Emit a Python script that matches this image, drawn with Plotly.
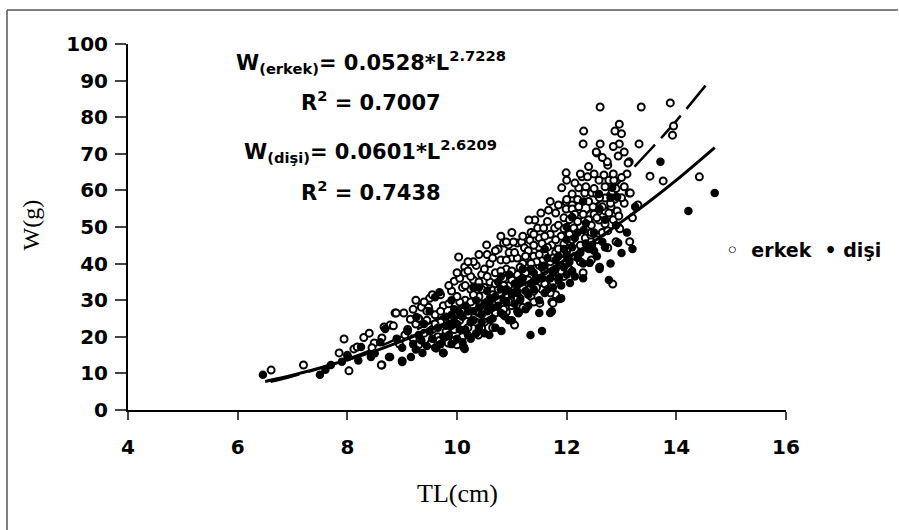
import plotly.graph_objects as go

# readings: (TL cm, W g)
erkek = [
    (6.61, 10.9), (7.2, 12.3), (7.85, 15.6), (7.94, 19.4), (8.03, 10.7), (8.01, 14.5),
    (8.12, 16.7), (8.18, 17.2), (8.49, 18.3), (8.45, 17.0), (8.63, 19.7), (8.63, 12.3),
    (8.78, 23.2), (8.87, 26.5), (8.84, 23.0), (8.67, 22.7), (8.62, 12.3), (8.3, 19.8),
    (8.4, 21.0), (8.89, 26.5), (9.03, 26.5), (9.0, 13.4), (9.53, 18.3), (9.62, 16.9),
    (9.75, 15.6), (9.35, 28.1), (9.48, 28.1), (9.05, 20.5), (9.1, 22.0), (9.2, 19.5),
    (9.25, 23.5), (9.3, 17.8), (9.4, 21.0), (9.45, 24.5), (9.55, 22.0), (9.6, 26.0),
    (9.65, 20.0), (9.7, 24.0), (9.75, 28.5), (9.8, 21.5), (8.95, 18.0), (9.15, 24.8),
    (9.5, 30.5), (9.68, 19.0), (9.84, 18.3), (9.95, 35.2), (9.9, 25.0), (9.95, 22.0),
    (10.03, 41.8), (10.14, 39.1), (10.14, 37.5), (10.12, 17.2), (10.0, 17.8), (10.39, 20.5),
    (10.45, 22.4), (10.54, 45.1), (10.85, 45.6), (10.94, 45.1), (11.1, 45.6), (11.05, 23.2),
    (10.87, 25.7), (11.12, 26.5), (10.05, 24.5), (10.1, 27.0), (10.15, 30.0), (10.2, 26.0),
    (10.25, 33.0), (10.3, 28.5), (10.3, 35.5), (10.35, 24.0), (10.4, 31.0), (10.45, 37.0),
    (10.5, 27.0), (10.5, 33.5), (10.55, 29.5), (10.6, 35.0), (10.6, 40.0), (10.65, 31.5),
    (10.7, 26.5), (10.7, 37.5), (10.75, 33.0), (10.8, 29.0), (10.8, 41.0), (10.85, 36.0),
    (10.9, 31.5), (10.9, 38.5), (10.95, 34.0), (11.0, 28.5), (11.0, 41.5), (10.05, 29.5),
    (10.2, 22.5), (10.35, 39.5), (10.55, 42.5), (10.65, 22.5), (10.75, 44.0), (10.95, 43.0),
    (10.4, 26.5), (10.6, 30.0), (10.85, 34.0), (10.1, 33.5), (10.25, 36.5), (10.45, 29.0),
    (10.9, 45.9), (11.03, 45.9), (11.18, 45.9), (11.23, 44.3), (11.33, 46.4), (11.49, 44.5),
    (11.73, 45.1), (11.95, 45.4), (12.06, 45.9), (11.42, 51.9), (11.31, 51.9), (11.47, 49.7),
    (11.58, 49.7), (11.78, 49.7), (11.53, 53.8), (11.67, 54.6), (11.8, 53.8), (11.73, 29.5),
    (11.51, 29.2), (11.12, 26.8), (10.9, 26.8), (11.75, 29.2), (11.05, 33.0), (11.1, 37.0),
    (11.15, 30.5), (11.2, 40.0), (11.25, 34.5), (11.3, 38.0), (11.35, 31.0), (11.4, 42.0),
    (11.45, 36.0), (11.5, 39.5), (11.55, 33.0), (11.6, 42.5), (11.65, 37.0), (11.7, 40.5),
    (11.75, 35.0), (11.8, 43.0), (11.85, 38.5), (11.9, 41.0), (11.95, 36.5), (12.0, 43.5),
    (11.1, 41.5), (11.3, 43.5), (11.5, 47.0), (11.7, 48.0), (11.9, 47.5), (11.2, 28.0),
    (11.4, 32.5), (11.6, 34.5), (11.8, 31.5), (11.15, 35.5), (11.45, 40.5), (11.85, 50.5),
    (11.65, 51.5), (11.35, 48.5), (11.95, 52.5), (11.25, 37.5),
    (11.99, 64.8), (12.0, 62.8), (12.28, 63.7), (12.38, 63.7), (12.5, 64.5), (12.68, 64.2),
    (12.77, 62.8), (12.86, 62.8), (12.59, 62.8), (11.91, 60.7), (12.22, 60.7), (12.33, 59.3),
    (12.46, 59.3), (12.55, 59.0), (12.7, 57.9), (12.83, 59.8), (12.88, 57.6), (13.14, 59.3),
    (12.1, 59.0), (11.99, 56.8), (12.1, 56.0), (11.99, 54.9), (12.1, 54.9), (12.22, 55.5),
    (12.48, 55.5), (12.59, 54.4), (12.7, 54.4), (12.81, 55.5), (12.92, 54.4), (12.5, 53.5),
    (12.77, 53.8), (12.59, 51.9), (12.7, 50.8), (12.96, 49.7), (12.13, 49.7), (12.34, 47.0),
    (12.44, 47.8), (12.75, 44.3), (12.97, 49.5), (12.84, 34.4), (12.31, 76.2), (12.3, 72.7),
    (12.61, 72.7), (12.55, 70.2), (12.94, 69.4), (12.75, 66.9), (13.14, 67.8), (13.05, 70.5),
    (12.61, 82.8), (12.96, 78.1), (12.88, 76.2), (12.96, 72.7), (12.54, 70.5), (12.74, 67.8),
    (12.05, 38.5), (12.15, 42.0), (12.25, 40.5), (12.35, 44.5), (12.45, 41.0), (12.55, 46.5),
    (12.65, 48.5), (12.2, 51.5), (12.4, 52.0), (12.05, 48.0), (12.3, 37.5), (12.6, 39.0),
    (12.9, 46.0), (12.85, 52.0),
    (13.32, 72.7), (13.36, 82.8), (13.89, 83.9), (13.95, 77.6), (13.93, 75.1), (13.52, 63.9),
    (13.76, 62.6), (14.42, 63.7), (13.16, 59.3), (13.12, 67.5), (13.1, 64.5), (13.2, 52.5),
    (13.05, 56.5), (13.3, 56.0), (13.15, 46.0),
    (9.2, 27.5), (9.3, 25.0), (9.4, 29.5), (9.55, 31.5), (9.6, 23.5), (9.7, 27.0),
    (9.85, 29.0), (9.9, 32.5), (9.95, 19.0), (10.0, 26.5), (10.0, 31.0), (10.05, 36.0),
    (10.1, 20.0), (10.15, 34.0), (10.2, 38.0), (10.25, 29.5), (10.3, 31.5), (10.35, 27.0),
    (10.4, 35.0), (10.45, 33.0), (10.5, 38.5), (10.5, 24.0), (10.55, 36.5), (10.6, 27.5),
    (10.65, 41.5), (10.7, 34.5), (10.75, 30.0), (10.8, 38.0), (10.85, 27.5), (10.9, 41.0),
    (10.95, 29.5), (11.0, 35.5), (11.0, 38.0), (11.05, 43.0), (11.1, 30.5), (11.15, 39.0),
    (11.2, 33.5), (11.25, 42.0), (11.3, 35.5), (11.35, 40.0), (11.4, 29.5), (11.4, 45.0),
    (11.45, 33.5), (11.5, 42.5), (11.55, 45.5), (11.6, 38.0), (11.65, 44.5), (11.7, 32.0),
    (11.75, 41.5), (11.8, 46.5), (11.85, 44.0), (11.9, 38.0), (11.95, 49.5), (12.0, 40.0),
    (12.0, 57.5), (12.05, 52.0), (12.1, 46.5), (12.15, 62.0), (12.2, 57.5), (12.25, 45.0),
    (12.3, 53.5), (12.35, 61.0), (12.4, 57.0), (12.45, 50.5), (12.5, 60.5), (12.55, 52.5),
    (12.6, 58.0), (12.65, 55.5), (12.7, 61.0), (12.75, 49.0), (12.8, 56.5), (12.85, 64.5),
    (12.9, 60.5), (12.95, 53.0), (13.0, 58.0), (13.0, 63.5), (13.05, 61.0), (12.4, 66.5),
    (12.65, 69.0), (12.85, 72.0), (13.0, 75.5), (12.45, 48.5), (12.15, 53.5), (12.25, 64.5),
    (11.7, 57.0), (11.85, 56.0), (11.6, 47.5), (11.4, 48.0), (11.2, 47.5), (11.0, 48.5),
    (10.8, 47.5), (10.7, 43.5), (10.4, 42.5), (10.3, 40.5), (10.2, 40.5), (10.0, 37.5),
    (9.85, 34.0), (9.7, 31.5), (9.45, 27.0), (9.25, 30.0),
]

disi = [
    (6.46, 9.6), (7.5, 9.6), (7.7, 12.3), (7.6, 11.0), (8.25, 17.2), (8.43, 14.5),
    (8.78, 14.5), (8.69, 22.1), (8.76, 14.5), (9.0, 13.1), (9.16, 14.5), (9.37, 15.6),
    (9.75, 15.6), (9.26, 25.4), (9.68, 32.2), (9.6, 30.8), (10.14, 16.7), (10.59, 20.5),
    (10.81, 21.6), (11.34, 20.5), (11.55, 21.6), (8.9, 19.5), (9.0, 17.0), (9.1, 21.5),
    (9.2, 18.0), (9.3, 20.5), (9.4, 23.5), (9.45, 17.5), (9.55, 19.5), (9.65, 22.5),
    (9.7, 18.0), (9.8, 25.5), (9.85, 20.5), (9.9, 23.0), (9.95, 27.5), (10.0, 19.5),
    (10.05, 22.0), (10.1, 25.5), (10.15, 28.5), (10.2, 20.5), (10.25, 24.0), (10.3, 27.0),
    (10.35, 30.0), (10.4, 22.5), (10.45, 26.0), (10.5, 29.0), (10.55, 32.5), (10.6, 24.5),
    (10.65, 28.0), (10.7, 31.0), (10.75, 35.0), (10.8, 26.5), (10.85, 30.0), (10.9, 33.0),
    (10.95, 37.0), (11.0, 24.5), (11.05, 29.0), (11.1, 32.0), (11.15, 35.0), (11.2, 38.5),
    (11.25, 27.5), (11.3, 31.5), (11.35, 34.5), (11.4, 37.5), (11.5, 30.0), (11.55, 36.0),
    (11.6, 39.5), (11.65, 33.0), (11.7, 26.5), (11.75, 37.5), (11.8, 41.0), (11.85, 35.5),
    (11.9, 30.5), (11.95, 39.0), (12.0, 42.5), (12.06, 34.7), (11.86, 36.1), (11.87, 30.3),
    (11.73, 27.0), (12.1, 38.0), (12.2, 41.5), (12.3, 36.0), (12.42, 40.2), (12.5, 43.5),
    (12.6, 38.5), (12.77, 35.5), (13.0, 42.9), (12.94, 45.6), (12.35, 45.5), (12.15, 47.0),
    (12.5, 48.5), (12.83, 60.7), (12.59, 59.0), (12.92, 58.2), (12.1, 52.7), (12.0, 50.0),
    (12.31, 49.2), (12.46, 45.1), (13.71, 67.8), (13.25, 55.5), (14.7, 59.3), (14.22, 54.4),
    (13.1, 48.5), (12.7, 52.0), (12.8, 40.0), (13.2, 44.0), (8.0, 15.0), (8.2, 13.5),
    (8.5, 15.5), (7.9, 13.2), (8.6, 18.5), (9.5, 27.0), (9.9, 30.0), (10.3, 33.5),
    (9.25, 16.5), (9.35, 19.0), (9.5, 21.5), (9.6, 17.0), (9.75, 20.0), (9.8, 23.0),
    (9.9, 18.0), (10.0, 23.5), (10.05, 26.5), (10.1, 18.5), (10.15, 22.0), (10.2, 27.0),
    (10.25, 19.5), (10.3, 24.5), (10.35, 21.0), (10.4, 28.0), (10.45, 24.0), (10.5, 21.0),
    (10.55, 27.0), (10.6, 30.5), (10.65, 25.0), (10.7, 22.5), (10.75, 28.5), (10.8, 33.0),
    (10.85, 26.0), (10.9, 29.5), (10.95, 24.5), (11.0, 31.5), (11.05, 34.5), (11.1, 27.0),
    (11.15, 30.0), (11.2, 36.0), (11.25, 32.5), (11.3, 28.5), (11.35, 38.5), (11.4, 33.0),
    (11.45, 35.5), (11.5, 26.5), (11.55, 39.0), (11.6, 32.0), (11.65, 41.5), (11.7, 36.0),
    (11.75, 33.5), (11.8, 38.5), (11.85, 42.0), (11.9, 34.0), (11.95, 44.0), (12.0, 37.0),
    (12.05, 40.5), (12.1, 44.5), (12.15, 36.5), (12.2, 48.5), (12.25, 43.0), (12.3, 40.0),
    (12.35, 51.0), (12.4, 44.0), (12.55, 42.0), (12.65, 46.0), (12.7, 44.5), (12.9, 50.5),
    (12.6, 55.0), (12.3, 57.0), (12.8, 58.0), (12.0, 46.5), (11.6, 44.0), (10.4, 33.5),
    (10.8, 36.5), (9.9, 26.0),
]

# fitted curves as drawn in the reference
erkek_fit_tl = [6.6, 7.0, 7.5, 8.0, 8.5, 9.0, 9.5, 10.0, 10.5, 11.0, 11.5, 12.0, 12.5, 13.0, 13.5, 14.0, 14.6]
erkek_fit_w = [7.7, 9.2, 11.4, 13.9, 16.8, 20.1, 23.7, 27.8, 32.4, 37.4, 42.9, 48.9, 55.6, 62.8, 70.7, 79.0, 89.9]
disi_fit_tl = [6.5, 7.0, 7.5, 8.0, 8.5, 9.0, 9.5, 10.0, 10.5, 11.0, 11.5, 12.0, 12.5, 13.0, 13.5, 14.0, 14.7]
disi_fit_w = [7.8, 9.5, 11.5, 13.7, 16.1, 18.9, 21.9, 25.1, 28.7, 32.6, 36.7, 41.3, 46.1, 51.4, 56.9, 62.8, 71.7]

BOLD = dict(family="DejaVu Sans", size=20, color="black", weight="bold")

fig = go.Figure()

fig.add_trace(go.Scatter(x=erkek_fit_tl, y=erkek_fit_w, mode="lines", line_shape="spline",
                         line=dict(color="black", width=2.5, dash="30px,9px"), hoverinfo="skip"))
fig.add_trace(go.Scatter(
    x=[p[0] for p in erkek], y=[p[1] for p in erkek], mode="markers", name="erkek",
    marker=dict(symbol="circle", size=7, color="white", line=dict(color="black", width=2)),
))
fig.add_trace(go.Scatter(
    x=[p[0] for p in disi], y=[p[1] for p in disi], mode="markers", name="dişi",
    marker=dict(symbol="circle", size=8.5, color="black", line=dict(width=0)),
))
fig.add_trace(go.Scatter(x=disi_fit_tl, y=disi_fit_w, mode="lines", line_shape="spline",
                         line=dict(color="black", width=3), hoverinfo="skip"))

eq_font = dict(family="DejaVu Sans", size=21, color="black", weight="bold")
texts = [
    ("W<sub>(erkek)</sub>= 0.0528*L<sup>2.7228</sup>", 95.0),
    ("R<sup>2</sup> = 0.7007", 84.4),
    ("W<sub>(dişi)</sub>= 0.0601*L<sup>2.6209</sup>", 70.8),
    ("R<sup>2</sup> = 0.7438", 59.8),
]
for t, yy in texts:
    fig.add_annotation(x=8.43, y=yy, text=t, showarrow=False, font=eq_font,
                       xanchor="center", yanchor="middle")

# legend drawn as text to the right of the plot
fig.add_annotation(xref="paper", yref="paper", x=1.027, y=0.437,
                   text="◦&nbsp; erkek&nbsp; •&nbsp;dişi", showarrow=False,
                   font=dict(family="DejaVu Sans", size=19, color="black", weight="bold"),
                   xanchor="center", yanchor="middle")

# axis titles
fig.add_annotation(xref="paper", yref="paper", x=-0.147, y=0.505, text="W(g)", textangle=-90,
                   xanchor="center", yanchor="middle", showarrow=False,
                   font=dict(family="Liberation Serif", size=24, color="black"))
fig.add_annotation(xref="paper", yref="paper", x=0.5, y=-0.227, text="TL(cm)",
                   xanchor="center", yanchor="middle", showarrow=False,
                   font=dict(family="Liberation Serif", size=26, color="black"))

# outer frame: only the top and left edges show in the picture
frame = dict(color="#555555", width=1.5)
fig.add_shape(type="line", xref="paper", yref="paper", x0=-0.1839, x1=1.17, y0=1.0929, y1=1.0929, line=frame)
fig.add_shape(type="line", xref="paper", yref="paper", x0=-0.1839, x1=-0.1839, y0=-0.42, y1=1.0929, line=frame)

fig.update_xaxes(range=[4, 16], dtick=2, ticks="outside", ticklen=8, tickwidth=2,
                 showline=True, linecolor="black", linewidth=2, showgrid=False, zeroline=False,
                 tickfont=BOLD, ticklabelstandoff=10)
fig.update_yaxes(range=[0, 100], dtick=10, ticks="outside", ticklen=11, tickwidth=2,
                 showline=True, linecolor="black", linewidth=2, showgrid=False, zeroline=False,
                 tickfont=BOLD, ticklabelstandoff=3)

fig.update_layout(
    width=899, height=530,
    margin=dict(l=128, r=113, t=44, b=120),
    plot_bgcolor="white", paper_bgcolor="white",
    showlegend=False,
)

fig.write_html("out.html", config={"displayModeBar": False},
               post_script="document.body.style.margin='0';document.body.style.overflow='hidden';")
